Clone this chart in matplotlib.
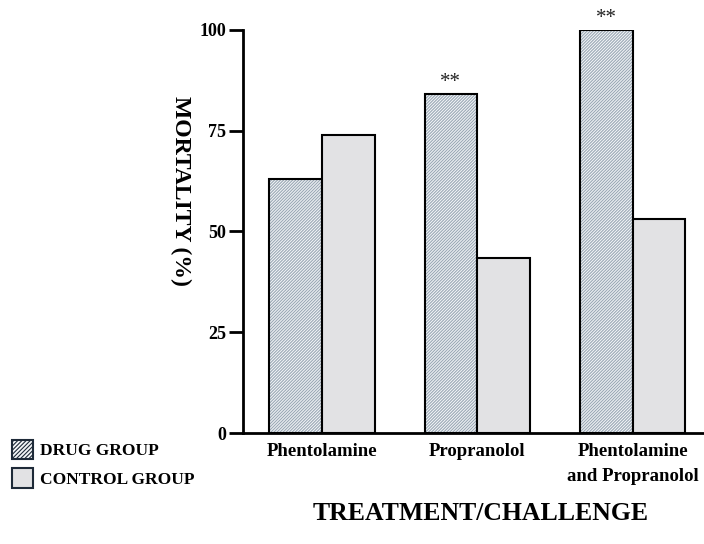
import matplotlib
matplotlib.use("Agg")
import matplotlib.pyplot as plt
import numpy as np
from matplotlib.patches import Patch

plt.rcParams.update({
    "font.family": "Liberation Serif",
    "font.weight": "bold",
    "hatch.linewidth": 0.8,
})

categories = ["Phentolamine", "Propranolol", "Phentolamine\nand Propranolol"]
drug_group = [63, 84, 100]
control_group = [74, 43.5, 53]
stars = ["", "**", "**"]

HATCH_BG = "#f4f6f8"
HATCH_FG = "#9aa8b5"
CONTROL = "#e2e2e4"

fig = plt.figure(figsize=(7.04, 5.44), dpi=100)
ax = fig.add_axes([0.345, 0.204, 0.655, 0.741])

x = np.arange(len(categories))
w = 0.34

# hatched fill first, then plain black outline on top
ax.bar(x - w / 2, drug_group, w, color=HATCH_BG, edgecolor=HATCH_FG,
       hatch="/" * 11, linewidth=0)
ax.bar(x - w / 2, drug_group, w, fill=False, edgecolor="black", linewidth=1.5)
ax.bar(x + w / 2, control_group, w, color=CONTROL, edgecolor="black", linewidth=1.5)

for i, s in enumerate(stars):
    if s:
        ax.text(x[i] - w / 2, drug_group[i] + 0.6, s, ha="center", va="bottom",
                fontsize=15, fontweight="normal", color="#222222")

ax.set_xlim(-0.51, 2.46)
ax.set_ylim(0, 100)
ax.set_yticks([0, 25, 50, 75, 100])
ax.tick_params(axis="y", direction="out", length=10, width=2, labelsize=13, pad=2)
ax.set_xticks(x)
ax.set_xticklabels(categories, fontsize=13.5, fontweight="bold", linespacing=1.65)
ax.tick_params(axis="x", length=0, pad=7)
for side in ["top", "right"]:
    ax.spines[side].set_visible(False)
ax.spines["left"].set_linewidth(2)
ax.spines["bottom"].set_linewidth(2)
ax.spines["left"].set_bounds(0, 100)

ax.set_ylabel("MORTALITY (%)", fontsize=17, fontweight="bold", rotation=270,
              va="center")
ax.yaxis.set_label_coords(-0.135, 0.6)
ax.set_xlabel("TREATMENT/CHALLENGE", fontsize=18.5, fontweight="bold", va="center")
ax.xaxis.set_label_coords(0.515, -0.2)

handles = [
    Patch(facecolor=HATCH_BG, edgecolor="#1e2a38", hatch="/" * 8, linewidth=1.5),
    Patch(facecolor=CONTROL, edgecolor="#1e2a38", linewidth=1.5),
]
leg = fig.legend(handles, ["DRUG GROUP", "CONTROL GROUP"], loc="lower left",
                 bbox_to_anchor=(-0.005, 0.075), frameon=False, fontsize=12.5,
                 handlelength=1.2, handleheight=1.35, handletextpad=0.4,
                 labelspacing=0.5)

fig.savefig("out.png", dpi=100)
